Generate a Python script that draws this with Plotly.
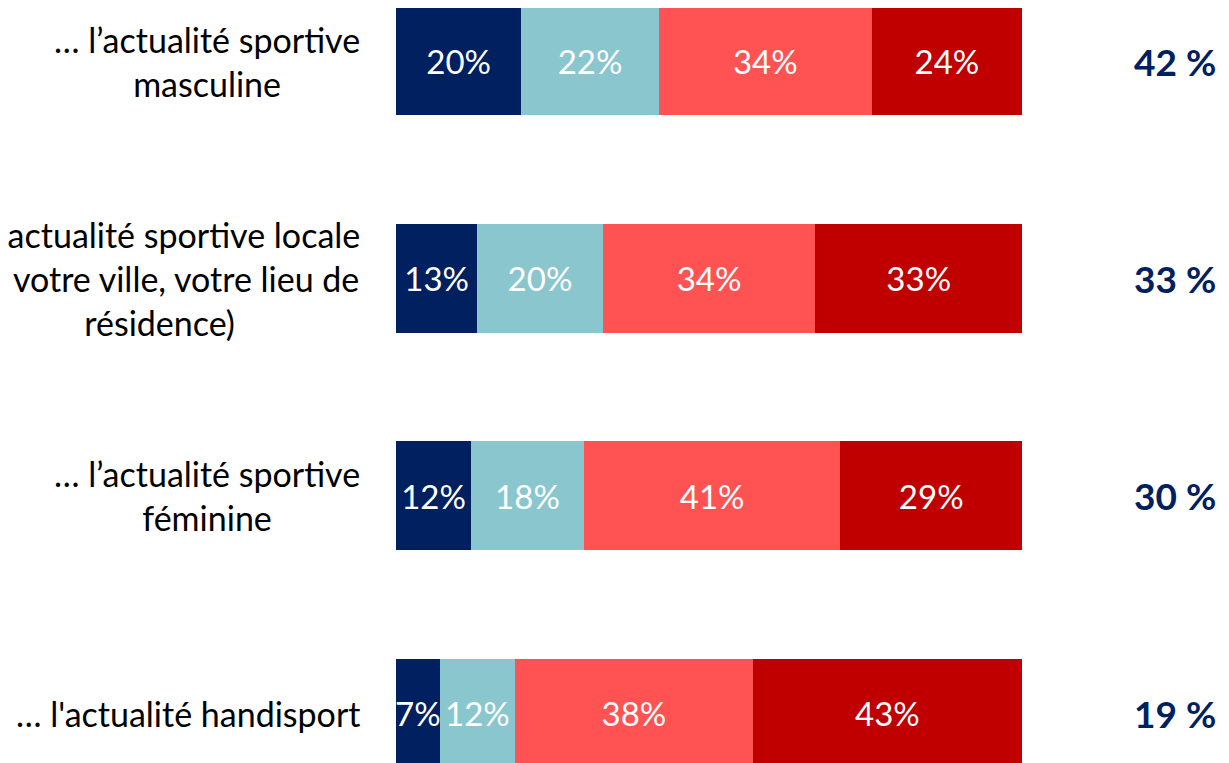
import plotly.graph_objects as go

# --- Data ---
categories = [
    "… l’actualité sportive<br>masculine",
    "… l’actualité sportive locale<br>(de votre ville, votre lieu de<br>résidence)",
    "… l’actualité sportive<br>féminine",
    "… l'actualité handisport",
]
series_names = ["Tout à fait", "Plutôt", "Plutôt pas", "Pas du tout"]
tout_a_fait = [20, 13, 12, 7]
plutot = [22, 20, 18, 12]
plutot_pas = [34, 34, 41, 38]
pas_du_tout = [24, 33, 29, 43]
totals = [42, 33, 30, 19]

colors = ["#002060", "#8AC6CE", "#FF5353", "#C00000"]
font_family = "Lato, 'Open Sans', sans-serif"

fig = go.Figure()

for name, values, color in zip(series_names, [tout_a_fait, plutot, plutot_pas, pas_du_tout], colors):
    fig.add_trace(
        go.Bar(
            y=list(range(len(categories))),
            x=values,
            name=name,
            orientation="h",
            width=0.5,
            marker=dict(color=color, line=dict(width=0)),
            text=[f"{v}%" for v in values],
            textposition="inside",
            insidetextanchor="middle",
            textangle=0,
            constraintext="none",
            textfont=dict(color="white", size=33, family=font_family),
            hoverinfo="skip",
        )
    )

# left labels, centred lines, right edge near the bars
for i, label in enumerate(categories):
    fig.add_annotation(
        x=-0.055,
        xref="paper",
        y=i,
        yref="y",
        text=label,
        showarrow=False,
        xanchor="right",
        yanchor="middle",
        align="center",
        font=dict(size=34, color="black", family=font_family),
    )

# totals on the right
for i, total in enumerate(totals):
    fig.add_annotation(
        x=1.245,
        xref="paper",
        y=i,
        yref="y",
        text=f"<b>{total} %</b>",
        showarrow=False,
        xanchor="center",
        yanchor="middle",
        font=dict(size=37, color="#002060", family=font_family),
    )

# the page body adds an 8px offset, so the figure is made 8px smaller
fig.update_layout(
    width=1221,
    height=755,
    barmode="stack",
    showlegend=False,
    plot_bgcolor="white",
    paper_bgcolor="white",
    margin=dict(l=388, r=207, t=0, b=0),
    xaxis=dict(range=[0, 100], visible=False, fixedrange=True),
    yaxis=dict(range=[3.23, -0.244], visible=False, fixedrange=True),
)

fig.write_html("out.html")
